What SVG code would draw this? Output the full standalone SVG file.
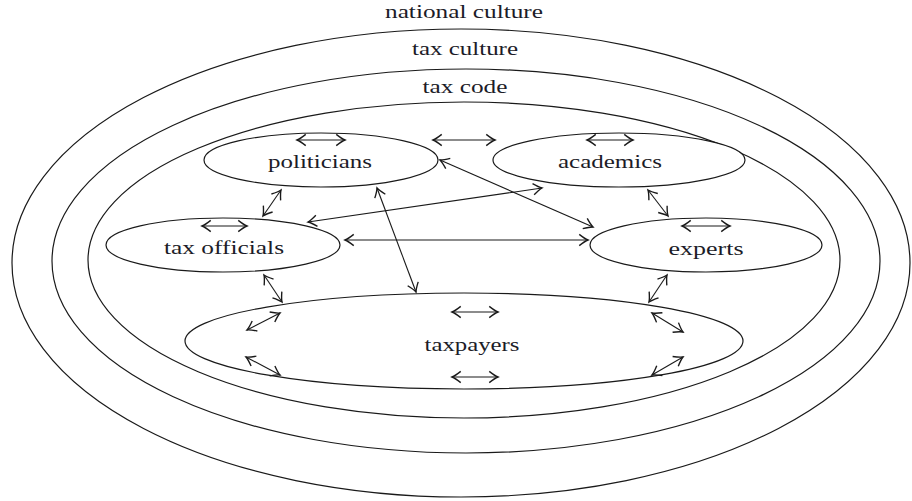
<svg xmlns="http://www.w3.org/2000/svg" width="912" height="501" viewBox="0 0 912 501">
  <style>
    .ring { fill: none; stroke: #1a1a1a; stroke-width: 1.2; }
    .node { fill: #ffffff; stroke: #1a1a1a; stroke-width: 1.2; }
    .lbl { font-family: "Liberation Serif", "Times New Roman", serif; font-size: 18px; fill: #1c1c28; text-anchor: middle; }
    .link { fill: none; stroke: #1a1a1a; stroke-width: 1.1; marker-start: url(#head); marker-end: url(#head); }
  </style>
  <defs>
    <marker id="head" markerUnits="userSpaceOnUse" markerWidth="20" markerHeight="20" refX="0" refY="0" viewBox="-10 -8 12 16" orient="auto-start-reverse">
      <path d="M-7,-4.5 Q-2.5,-1 0,0 Q-2.5,1 -7,4.5" fill="none" stroke="#1a1a1a" stroke-width="1.1"/>
    </marker>
  </defs>

  <rect width="912" height="501" fill="#ffffff"/>

  <!-- nested context rings -->
  <g id="national-culture">
    <ellipse class="ring" cx="461" cy="263" rx="449" ry="234"/>
    <text class="lbl" x="464" y="18" textLength="158" lengthAdjust="spacingAndGlyphs">national culture</text>
  </g>
  <g id="tax-culture">
    <ellipse class="ring" cx="466" cy="261" rx="414" ry="192"/>
    <text class="lbl" x="465" y="55" textLength="106" lengthAdjust="spacingAndGlyphs">tax culture</text>
  </g>
  <g id="tax-code">
    <ellipse class="ring" cx="464" cy="260" rx="376" ry="158"/>
    <text class="lbl" x="465" y="93" textLength="85" lengthAdjust="spacingAndGlyphs">tax code</text>
  </g>

  <!-- actors -->
  <g id="politicians">
    <ellipse class="node" cx="321" cy="160" rx="117" ry="27"/>
    <text class="lbl" x="320" y="168" textLength="104" lengthAdjust="spacingAndGlyphs">politicians</text>
  </g>
  <g id="academics">
    <ellipse class="node" cx="619" cy="160" rx="126" ry="27"/>
    <text class="lbl" x="610" y="168" textLength="104" lengthAdjust="spacingAndGlyphs">academics</text>
  </g>
  <g id="tax-officials">
    <ellipse class="node" cx="223" cy="245" rx="117" ry="27"/>
    <text class="lbl" x="224" y="254" textLength="120" lengthAdjust="spacingAndGlyphs">tax officials</text>
  </g>
  <g id="experts">
    <ellipse class="node" cx="706" cy="245" rx="116" ry="27"/>
    <text class="lbl" x="706" y="255" textLength="75" lengthAdjust="spacingAndGlyphs">experts</text>
  </g>
  <g id="taxpayers">
    <ellipse class="node" cx="464" cy="341" rx="279" ry="48"/>
    <text class="lbl" x="472" y="351" textLength="95" lengthAdjust="spacingAndGlyphs">taxpayers</text>
  </g>

  <!-- interactions -->
  <g id="connectors">
    <line class="link" x1="297" y1="140" x2="345" y2="140"/>
    <line class="link" x1="587" y1="140" x2="633" y2="140"/>
    <line class="link" x1="433" y1="140" x2="495" y2="140"/>
    <line class="link" x1="202" y1="226" x2="247" y2="226"/>
    <line class="link" x1="682" y1="226" x2="730" y2="226"/>
    <line class="link" x1="281" y1="190" x2="263" y2="216"/>
    <line class="link" x1="377" y1="188" x2="416" y2="292"/>
    <line class="link" x1="440" y1="160" x2="593" y2="227"/>
    <line class="link" x1="308" y1="222" x2="542" y2="188"/>
    <line class="link" x1="345" y1="240" x2="588" y2="240"/>
    <line class="link" x1="648" y1="190" x2="668" y2="216"/>
    <line class="link" x1="264" y1="275" x2="282" y2="302"/>
    <line class="link" x1="667" y1="275" x2="649" y2="302"/>
    <line class="link" x1="452" y1="312" x2="498" y2="312"/>
    <line class="link" x1="452" y1="377" x2="498" y2="377"/>
    <line class="link" x1="247" y1="330" x2="280" y2="313"/>
    <line class="link" x1="246" y1="357" x2="280" y2="375"/>
    <line class="link" x1="652" y1="313" x2="683" y2="332"/>
    <line class="link" x1="652" y1="375" x2="683" y2="357"/>
  </g>
</svg>
